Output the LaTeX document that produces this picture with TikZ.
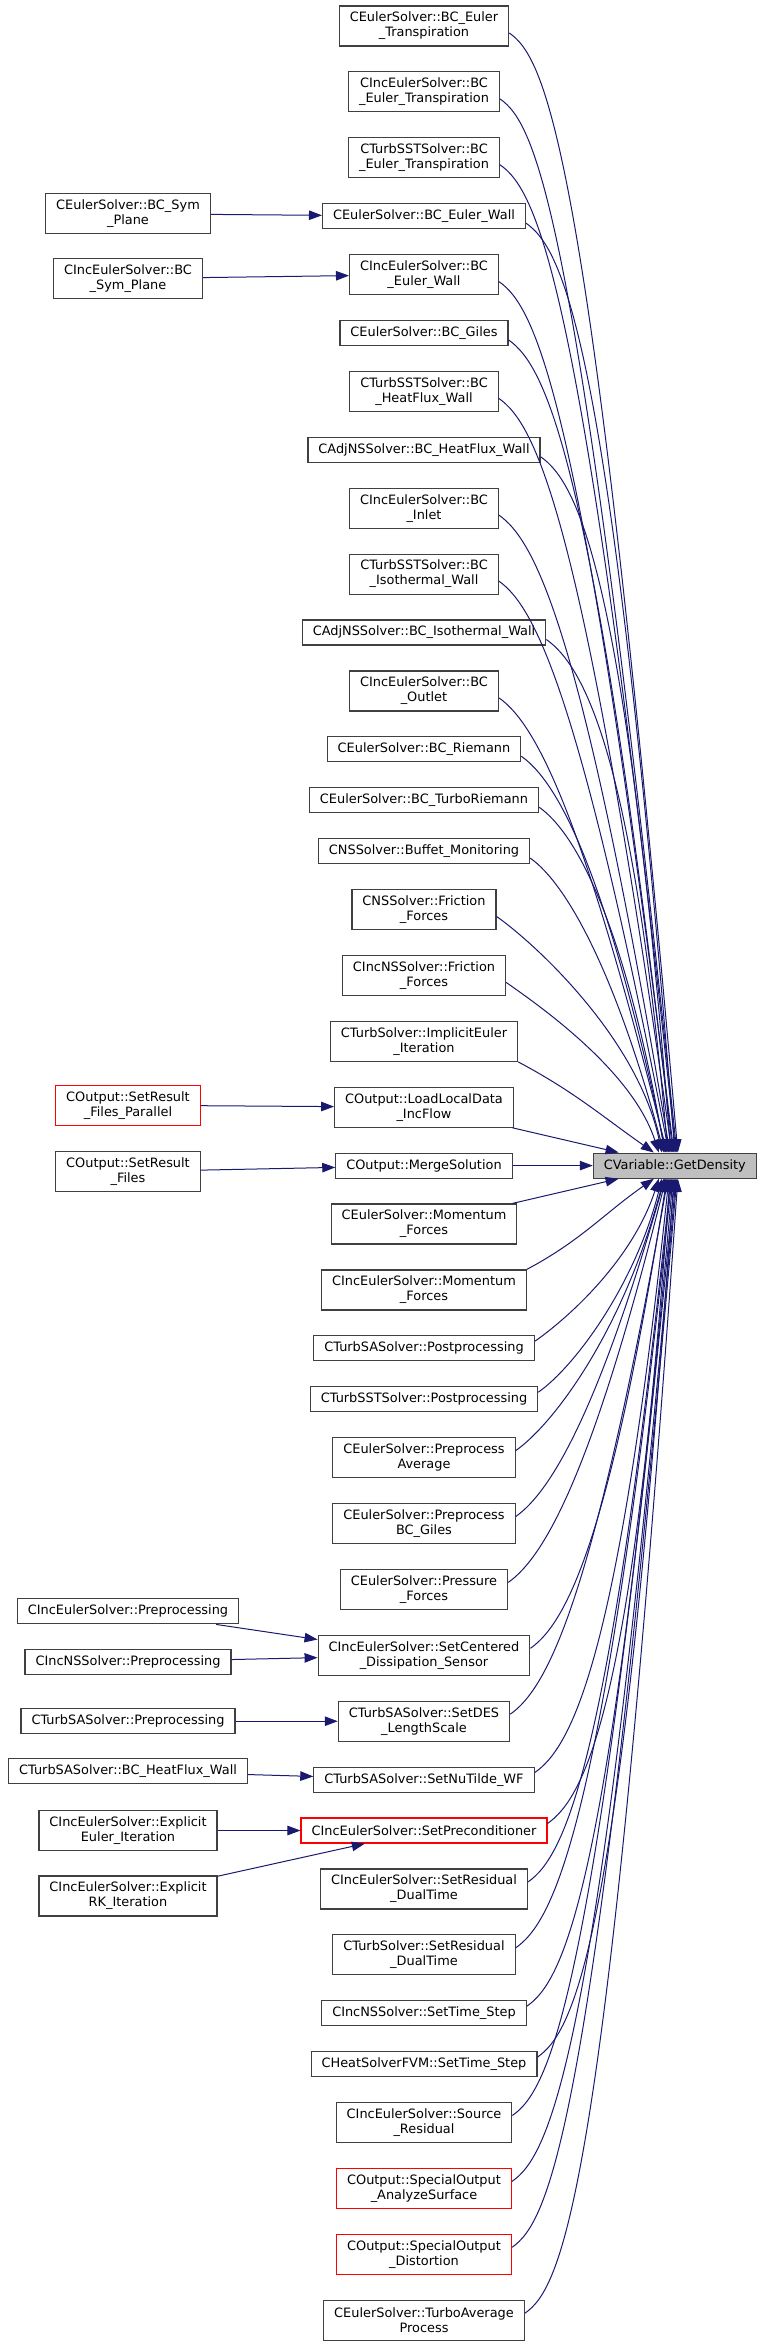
\documentclass[tikz,border=0pt]{standalone}
\usepackage{fontspec}
\setmainfont{DejaVu Sans}
\usetikzlibrary{arrows.meta,positioning}
\definecolor{edgeblue}{HTML}{191970}
\definecolor{rootgray}{HTML}{BFBFBF}
\definecolor{boxline}{HTML}{404040}
\tikzset{
  box/.style={draw=boxline,fill=white,line width=1.2pt,align=center,inner xsep=10.5pt,inner ysep=2pt,minimum height=25pt,font=\fontsize{12.9}{15}\selectfont},
  box2/.style={box,minimum height=40pt},
  trunc/.style={draw=red},
  root/.style={box,fill=rootgray},
  ar/.style={-{Triangle[length=13pt,width=9.5pt]},draw=edgeblue,line width=1pt},
}

\begin{document}
\begin{tikzpicture}[x=1pt,y=1pt,node distance=24.7pt]
    \useasboundingbox (0,0) rectangle (765,-2341);
    % callers, middle column
    \node[box2] (eultransp) at (424,-26) {CEulerSolver::BC\_Euler\\\_Transpiration};
    \node[box2,below=of eultransp] (inctransp) {CIncEulerSolver::BC\\\_Euler\_Transpiration};
    \node[box2,below=of inctransp] (ssttransp) {CTurbSSTSolver::BC\\\_Euler\_Transpiration};
    \node[box,below=of ssttransp] (eulwall) {CEulerSolver::BC\_Euler\_Wall};
    \node[box2,below=of eulwall] (incwall) {CIncEulerSolver::BC\\\_Euler\_Wall};
    \node[box,below=of incwall] (giles) {CEulerSolver::BC\_Giles};
    \node[box2,below=of giles] (sstheat) {CTurbSSTSolver::BC\\\_HeatFlux\_Wall};
    \node[box,below=of sstheat] (adjheat) {CAdjNSSolver::BC\_HeatFlux\_Wall};
    \node[box2,below=of adjheat] (inlet) {CIncEulerSolver::BC\\\_Inlet};
    \node[box2,below=of inlet] (sstiso) {CTurbSSTSolver::BC\\\_Isothermal\_Wall};
    \node[box,below=of sstiso] (adjiso) {CAdjNSSolver::BC\_Isothermal\_Wall};
    \node[box2,below=of adjiso] (outlet) {CIncEulerSolver::BC\\\_Outlet};
    \node[box,below=of outlet] (riemann) {CEulerSolver::BC\_Riemann};
    \node[box,below=of riemann] (turboriemann) {CEulerSolver::BC\_TurboRiemann};
    \node[box,below=of turboriemann] (buffet) {CNSSolver::Buffet\_Monitoring};
    \node[box2,below=of buffet] (nsfric) {CNSSolver::Friction\\\_Forces};
    \node[box2,below=of nsfric] (incnsfric) {CIncNSSolver::Friction\\\_Forces};
    \node[box2,below=of incnsfric] (impleuler) {CTurbSolver::ImplicitEuler\\\_Iteration};
    \node[box2,below=of impleuler] (loadlocal) {COutput::LoadLocalData\\\_IncFlow};
    \node[box,below=of loadlocal] (merge) {COutput::MergeSolution};
    \node[box2,below=of merge] (eulmom) {CEulerSolver::Momentum\\\_Forces};
    \node[box2,below=of eulmom] (incmom) {CIncEulerSolver::Momentum\\\_Forces};
    \node[box,below=of incmom] (sapost) {CTurbSASolver::Postprocessing};
    \node[box,below=of sapost] (sstpost) {CTurbSSTSolver::Postprocessing};
    \node[box2,below=of sstpost] (preavg) {CEulerSolver::Preprocess\\Average};
    \node[box2,below=of preavg] (pregiles) {CEulerSolver::Preprocess\\BC\_Giles};
    \node[box2,below=of pregiles] (pressure) {CEulerSolver::Pressure\\\_Forces};
    \node[box2,below=of pressure] (setcentered) {CIncEulerSolver::SetCentered\\\_Dissipation\_Sensor};
    \node[box2,below=of setcentered] (setdes) {CTurbSASolver::SetDES\\\_LengthScale};
    \node[box,below=of setdes] (nutilde) {CTurbSASolver::SetNuTilde\_WF};
    \node[box,trunc,below=of nutilde] (precond) {CIncEulerSolver::SetPreconditioner};
    \node[box2,below=of precond] (incresid) {CIncEulerSolver::SetResidual\\\_DualTime};
    \node[box2,below=of incresid] (turbresid) {CTurbSolver::SetResidual\\\_DualTime};
    \node[box,below=of turbresid] (incnstime) {CIncNSSolver::SetTime\_Step};
    \node[box,below=of incnstime] (heattime) {CHeatSolverFVM::SetTime\_Step};
    \node[box2,below=of heattime] (source) {CIncEulerSolver::Source\\\_Residual};
    \node[box2,trunc,below=of source] (analyze) {COutput::SpecialOutput\\\_AnalyzeSurface};
    \node[box2,trunc,below=of analyze] (distortion) {COutput::SpecialOutput\\\_Distortion};
    \node[box2,below=of distortion] (turboavg) {CEulerSolver::TurboAverage\\Process};
    % callee
    \node[root,right=80pt of merge] (gd) {CVariable::GetDensity};
    % callers of callers, left column
    \coordinate (lcol) at (128,0);
    \node[box2,yshift=2.5pt] (symplane) at (lcol |- eulwall) {CEulerSolver::BC\_Sym\\\_Plane};
    \node[box2,yshift=-4pt] (incsymplane) at (lcol |- incwall) {CIncEulerSolver::BC\\\_Sym\_Plane};
    \node[box2,trunc,yshift=2pt] (filespar) at (lcol |- loadlocal) {COutput::SetResult\\\_Files\_Parallel};
    \node[box2,yshift=-6pt] (files) at (lcol |- merge) {COutput::SetResult\\\_Files};
    \node[box,yshift=44pt] (incpre) at (lcol |- setcentered) {CIncEulerSolver::Preprocessing};
    \node[box,yshift=-6.5pt] (incnspre) at (lcol |- setcentered) {CIncNSSolver::Preprocessing};
    \node[box] (sapre) at (lcol |- setdes) {CTurbSASolver::Preprocessing};
    \node[box,yshift=8.5pt] (saheat) at (lcol |- nutilde) {CTurbSASolver::BC\_HeatFlux\_Wall};
    \node[box2] (expleuler) at (lcol |- precond) {CIncEulerSolver::Explicit\\Euler\_Iteration};
    \node[box2,yshift=-65.5pt] (explrk) at (lcol |- precond) {CIncEulerSolver::Explicit\\RK\_Iteration};
    % left to middle
    \draw[ar] (symplane) -- (eulwall);
    \draw[ar] (incsymplane) -- (incwall);
    \draw[ar] (filespar) -- (loadlocal);
    \draw[ar] (files) -- (merge);
    \draw[ar] (incpre) -- (setcentered);
    \draw[ar] (incnspre) -- (setcentered);
    \draw[ar] (sapre) -- (setdes);
    \draw[ar] (saheat) -- (nutilde);
    \draw[ar] (expleuler) -- (precond);
    \draw[ar] (explrk) -- (precond);
    % middle to callee, from above
    \draw[ar] ([yshift=-7pt]eultransp.east) .. controls +(36.9,-25.8) and +(-88,1005) .. ([xshift=3pt]gd.north);
    \draw[ar] ([yshift=-7pt]inctransp.east) .. controls +(36.9,-25.8) and +(-98.7,938.8) .. ([xshift=2pt]gd.north);
    \draw[ar] ([yshift=-7pt]ssttransp.east) .. controls +(36.9,-25.8) and +(-91.9,874.2) .. ([xshift=1pt]gd.north);
    \draw[ar] ([yshift=-7pt]eulwall.east) .. controls +(36.9,-25.8) and +(-64.1,814.5) .. (gd.north);
    \draw[ar] ([yshift=-7pt]incwall.east) .. controls +(36.9,-25.8) and +(-92.8,755.3) .. ([xshift=-1pt]gd.north);
    \draw[ar] ([yshift=-7pt]giles.east) .. controls +(36.9,-25.8) and +(-79.4,696.5) .. ([xshift=-2pt]gd.north);
    \draw[ar] ([yshift=-7pt]sstheat.east) .. controls +(36.9,-25.8) and +(-89.6,637.7) .. ([xshift=-3pt]gd.north);
    \draw[ar] ([yshift=-7pt]adjheat.east) .. controls +(36.9,-25.8) and +(-45.6,579.2) .. ([xshift=-4pt]gd.north);
    \draw[ar] ([yshift=-7pt]inlet.east) .. controls +(36.9,-25.8) and +(-87,519.8) .. ([xshift=-5pt]gd.north);
    \draw[ar] ([yshift=-7pt]sstiso.east) .. controls +(36.9,-25.8) and +(-88.2,453.5) .. ([xshift=-6pt]gd.north);
    \draw[ar] ([yshift=-7pt]adjiso.east) .. controls +(36.9,-25.8) and +(-34.9,398.5) .. ([xshift=-7pt]gd.north);
    \draw[ar] ([yshift=-7pt]outlet.east) .. controls +(36.9,-25.8) and +(-84.4,338.6) .. ([xshift=-8pt]gd.north);
    \draw[ar] ([yshift=-7pt]riemann.east) .. controls +(36.9,-25.8) and +(-59.7,280.7) .. ([xshift=-9pt]gd.north);
    \draw[ar] ([yshift=-7pt]turboriemann.east) .. controls +(36.9,-25.8) and +(-40.5,229.5) .. ([xshift=-10pt]gd.north);
    \draw[ar] ([yshift=-7pt]buffet.east) .. controls +(36.9,-25.8) and +(-47.9,178.7) .. ([xshift=-11pt]gd.north);
    \draw[ar] ([yshift=-7pt]nsfric.east) .. controls +(36.9,-25.8) and +(-24.5,115.4) .. ([xshift=-13pt]gd.north);
    \draw[ar] ([yshift=-7pt]incnsfric.east) .. controls +(36.9,-25.8) and +(-26.3,80.8) .. ([xshift=-16pt]gd.north);
    \draw[ar] (impleuler.south east) to[out=-28,in=145] ([xshift=-21pt]gd.north);
    \draw[ar] (loadlocal) -- (gd);
    \draw[ar] (merge) -- (gd);
    % middle to callee, from below
    \draw[ar] (eulmom) -- (gd);
    \draw[ar] (incmom.north east) to[out=28,in=-145] ([xshift=-21pt]gd.south);
    \draw[ar] ([yshift=7pt]sapost.east) .. controls +(36.9,25.8) and +(-25.6,-78.9) .. ([xshift=-16pt]gd.south);
    \draw[ar] ([yshift=7pt]sstpost.east) .. controls +(36.9,25.8) and +(-26.1,-104.8) .. ([xshift=-13pt]gd.south);
    \draw[ar] ([yshift=7pt]preavg.east) .. controls +(36.9,25.8) and +(-41.4,-154.5) .. ([xshift=-11pt]gd.south);
    \draw[ar] ([yshift=7pt]pregiles.east) .. controls +(36.9,25.8) and +(-64.8,-225.9) .. ([xshift=-10pt]gd.south);
    \draw[ar] ([yshift=7pt]pressure.east) .. controls +(36.9,25.8) and +(-72.6,-291.1) .. ([xshift=-9pt]gd.south);
    \draw[ar] ([yshift=7pt]setcentered.east) .. controls +(36.9,25.8) and +(-56.5,-356.6) .. ([xshift=-8pt]gd.south);
    \draw[ar] ([yshift=7pt]setdes.east) .. controls +(36.9,25.8) and +(-74.5,-422.5) .. ([xshift=-7pt]gd.south);
    \draw[ar] ([yshift=7pt]nutilde.east) .. controls +(36.9,25.8) and +(-50.6,-481.3) .. ([xshift=-6pt]gd.south);
    \draw[ar] ([yshift=7pt]precond.east) .. controls +(36.9,25.8) and +(-37,-529.7) .. ([xshift=-5pt]gd.south);
    \draw[ar] ([yshift=7pt]incresid.east) .. controls +(36.9,25.8) and +(-61.8,-587.8) .. ([xshift=-4pt]gd.south);
    \draw[ar] ([yshift=7pt]turbresid.east) .. controls +(36.9,25.8) and +(-68.8,-654.4) .. ([xshift=-3pt]gd.south);
    \draw[ar] ([yshift=7pt]incnstime.east) .. controls +(36.9,25.8) and +(-62.4,-713.3) .. ([xshift=-2pt]gd.south);
    \draw[ar] ([yshift=7pt]heattime.east) .. controls +(36.9,25.8) and +(-53.4,-764.1) .. ([xshift=-1pt]gd.south);
    \draw[ar] ([yshift=7pt]source.east) .. controls +(36.9,25.8) and +(-79.3,-823.2) .. (gd.south);
    \draw[ar] ([yshift=7pt]analyze.east) .. controls +(36.9,25.8) and +(-77.7,-888.6) .. ([xshift=1pt]gd.south);
    \draw[ar] ([yshift=7pt]distortion.east) .. controls +(36.9,25.8) and +(-83.5,-954.4) .. ([xshift=2pt]gd.south);
    \draw[ar] ([yshift=7pt]turboavg.east) .. controls +(36.9,25.8) and +(-71.3,-1019.5) .. ([xshift=3pt]gd.south);
\end{tikzpicture}
\end{document}
